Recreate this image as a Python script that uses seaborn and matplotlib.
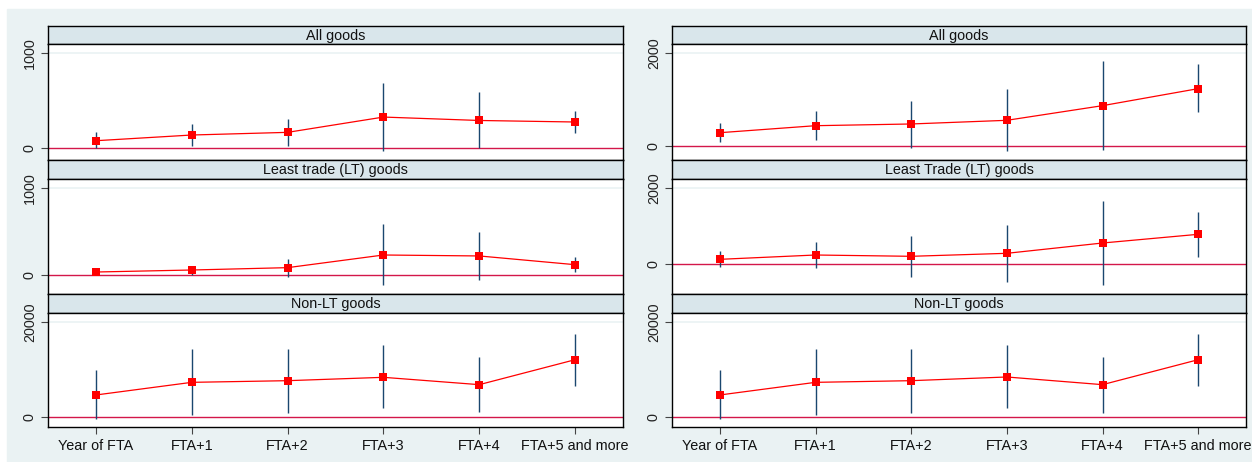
import numpy as np
import matplotlib
matplotlib.use("Agg")
import matplotlib.pyplot as plt
import seaborn as sns
from matplotlib.patches import Rectangle

W, H = 1252, 462

categories = ["Year of FTA", "FTA+1", "FTA+2", "FTA+3", "FTA+4", "FTA+5 and more"]

titles_left = ["All goods", "Least trade (LT) goods", "Non-LT goods"]
titles_right = ["All goods", "Least Trade (LT) goods", "Non-LT goods"]

# left chart: point estimates and confidence bounds
left_all_est = [77, 137, 165, 326, 290, 274]
left_all_lo = [3, 24, 24, -32, 4, 161]
left_all_hi = [165, 249, 308, 684, 586, 389]

left_lt_est = [34, 57, 84, 229, 218, 118]
left_lt_lo = [20, 5, -19, -115, -54, 38]
left_lt_hi = [48, 103, 187, 588, 496, 206]

left_nlt_est = [4650, 7320, 7670, 8380, 6830, 12100]
left_nlt_lo = [-490, 420, 910, 1830, 990, 6620]
left_nlt_hi = [9930, 14360, 14360, 15200, 12670, 17530]

# right chart
right_all_est = [287, 438, 475, 554, 870, 1237]
right_all_lo = [93, 129, -37, -108, -86, 734]
right_all_hi = [496, 755, 977, 1223, 1841, 1769]

right_lt_est = [130, 243, 209, 287, 556, 783]
right_lt_lo = [-63, -89, -339, -462, -540, 183]
right_lt_hi = [347, 582, 747, 1026, 1661, 1366]

right_nlt_est = [4650, 7320, 7670, 8450, 6830, 12100]
right_nlt_lo = [-490, 420, 910, 1830, 910, 6620]
right_nlt_hi = [9930, 14360, 14360, 15200, 12670, 17600]

left_yticks = [[0, 1000], [0, 1000], [0, 20000]]
right_yticks = [[0, 2000], [0, 2000], [0, 20000]]
left_ylims = [(-126, 1095), (-218, 1100), (-2110, 21960)]
right_ylims = [(-302, 2200), (-775, 2227), (-2110, 21960)]

BG = "#EAF2F3"
STRIP = "#D9E6EB"
NAVY = "#1a476f"
ZERO = "#d3174a"

sns.set_theme(style="white")
plt.rcParams["font.family"] = ["Liberation Sans", "DejaVu Sans"]
FS = 10.4


def box(x0, y0, x1, y1):
    # pixel box (top-left origin) -> figure fraction rect
    return [x0 / W, 1 - y1 / H, (x1 - x0) / W, (y1 - y0) / H]


def draw_panel(fig, x0, x1, rows, est, lo, hi, title, yticks, ylim, bottom):
    ys, yp, yb = rows
    sax = fig.add_axes(box(x0, ys, x1, yp))
    sax.set_facecolor(STRIP)
    sax.set_xticks([])
    sax.set_yticks([])
    for s in sax.spines.values():
        s.set_color("black")
        s.set_linewidth(1.0)
    sax.text(0.5, 0.45, title, ha="center", va="center", fontsize=FS,
             color="#111111", transform=sax.transAxes)

    ax = fig.add_axes(box(x0, yp, x1, yb))
    ax.set_facecolor("white")
    pos = np.arange(len(categories))
    ax.axhline(yticks[-1], color=BG, lw=1.2, zorder=0)
    ax.axhline(0, color=ZERO, lw=1.0, zorder=1)
    ax.vlines(pos, lo, hi, color=NAVY, lw=1.0, zorder=2)
    sns.lineplot(x=pos, y=est, ax=ax, color="red", linewidth=0.9,
                 marker="s", markersize=6, markeredgewidth=0, zorder=3)
    ax.set_xlim(-0.5, len(categories) - 0.5)
    ax.set_ylim(*ylim)
    ax.set_yticks(yticks)
    ax.set_yticklabels([str(t) for t in yticks], rotation=90, va="center",
                       fontsize=FS, color="#222222")
    ax.tick_params(axis="y", left=True, length=5, width=0.8, color="#444444",
                   pad=3)
    if bottom:
        ax.set_xticks(pos)
        ax.set_xticklabels(categories, fontsize=FS, color="#111111")
        ax.tick_params(axis="x", bottom=True, length=5, width=0.8,
                       color="#444444", pad=4)
    else:
        ax.set_xticks([])
    ax.set_xlabel("")
    ax.set_ylabel("")
    for s in ax.spines.values():
        s.set_color("black")
        s.set_linewidth(1.0)


fig = plt.figure(figsize=(W / 100, H / 100), dpi=100)
fig.patch.set_facecolor("white")
fig.patches.append(Rectangle((7 / W, 0), 1 - 7 / W, 1 - 9 / H,
                             transform=fig.transFigure, color=BG, zorder=-1))

rows = [(26, 44, 160), (160, 179, 294), (294, 313, 427)]

left = [(left_all_est, left_all_lo, left_all_hi),
        (left_lt_est, left_lt_lo, left_lt_hi),
        (left_nlt_est, left_nlt_lo, left_nlt_hi)]
right = [(right_all_est, right_all_lo, right_all_hi),
         (right_lt_est, right_lt_lo, right_lt_hi),
         (right_nlt_est, right_nlt_lo, right_nlt_hi)]

for i in range(3):
    draw_panel(fig, 48, 623, rows[i], *left[i], titles_left[i],
               left_yticks[i], left_ylims[i], i == 2)
    draw_panel(fig, 672, 1246, rows[i], *right[i], titles_right[i],
               right_yticks[i], right_ylims[i], i == 2)

fig.savefig("out.png", dpi=100, facecolor=fig.get_facecolor())
